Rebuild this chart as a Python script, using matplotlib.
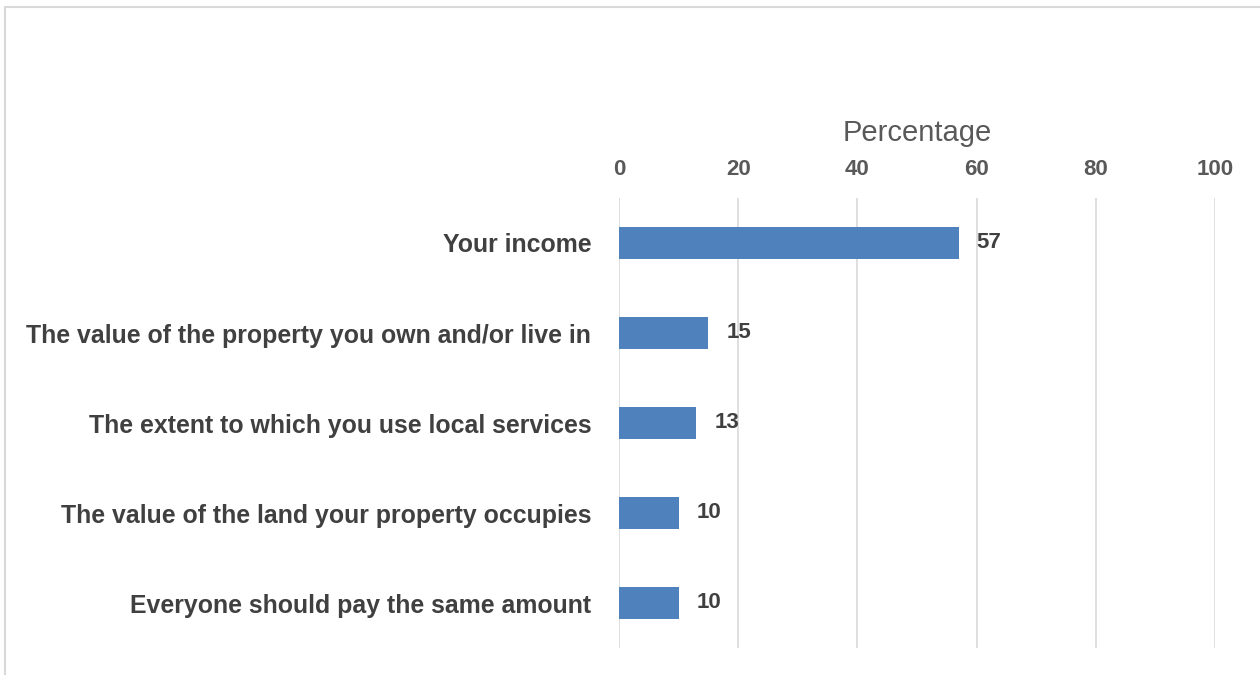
import matplotlib.pyplot as plt
from matplotlib.patches import Rectangle

# --- data ---------------------------------------------------------------
CATEGORIES = [
    "Your income",
    "The value of the property you own and/or live in",
    "The extent to which you use local services",
    "The value of the land your property occupies",
    "Everyone should pay the same amount",
]
VALUES = [57, 15, 13, 10, 10]
XTICKS = [0, 20, 40, 60, 80, 100]

# --- style --------------------------------------------------------------
BAR = "#4F81BD"
GRID = "#D9D9D9"
TICK_COL = "#595959"
LABEL_COL = "#404040"
FONT = "Liberation Sans"

fig = plt.figure(figsize=(12.6, 6.75), dpi=100)

# outer light frame
fig.patches.append(Rectangle((5 / 1260, -0.01), 1.1, 1 - 7 / 675 + 0.01,
                             transform=fig.transFigure, fill=False,
                             edgecolor="#D9D9D9", linewidth=1.5))

ax = fig.add_axes([619 / 1260, 27 / 675, 596 / 1260, 450 / 675])
y = list(range(len(CATEGORIES)))
ax.barh(y, VALUES, height=0.35, color=BAR, zorder=3)
ax.set_xlim(0, 100)
ax.set_ylim(len(CATEGORIES) - 0.5, -0.5)

ax.xaxis.tick_top()
ax.xaxis.set_label_position("top")
ax.set_xticks(XTICKS)
ax.set_xticklabels([str(t) for t in XTICKS], fontsize=16, fontweight="bold",
                   color=TICK_COL, family=FONT)
ax.tick_params(axis="x", length=0, pad=13)
ax.set_xlabel("Percentage", fontsize=21, color=TICK_COL, family=FONT,
              labelpad=13)

ax.set_yticks(y)
ax.set_yticklabels(CATEGORIES, fontsize=17.9, fontweight="bold",
                   color=LABEL_COL, family=FONT)
ax.tick_params(axis="y", length=0, pad=20)

ax.grid(axis="x", color=GRID, linewidth=1.2, zorder=0)
for s in ax.spines.values():
    s.set_visible(False)

for yi, v in zip(y, VALUES):
    ax.text(v + 3, yi, str(v), va="center", ha="left", fontsize=16,
            fontweight="bold", color=LABEL_COL, family=FONT)

fig.savefig("out.png", dpi=100)
